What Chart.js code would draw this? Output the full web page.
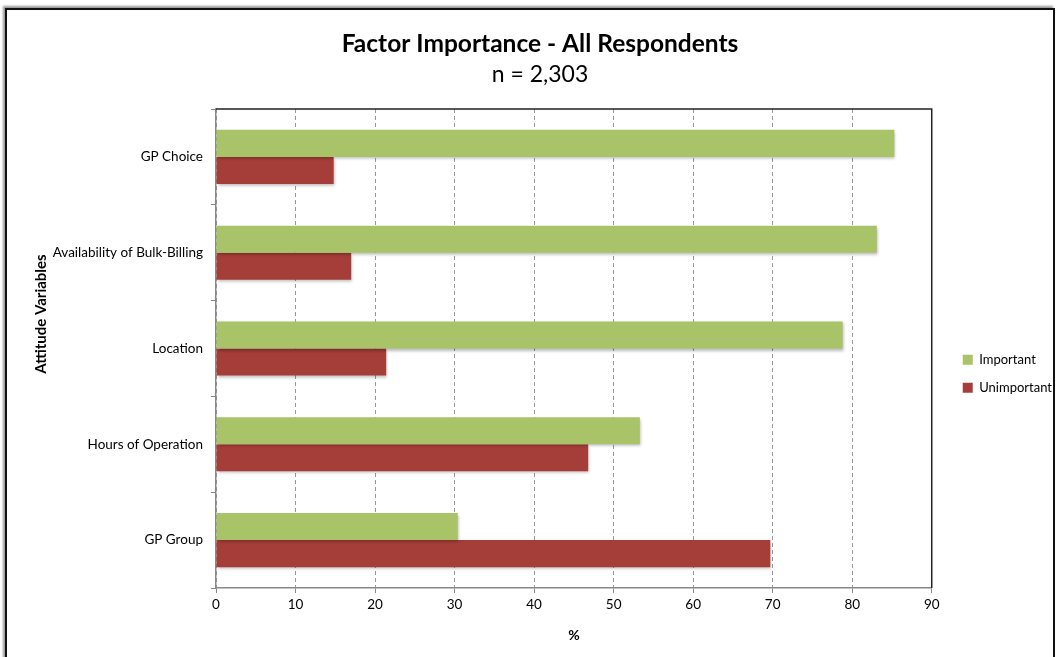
<!DOCTYPE html>
<html>
<head>
<meta charset="utf-8">
<script src="https://cdn.jsdelivr.net/npm/chart.js@4.4.1/dist/chart.umd.min.js"></script>
<style>
  html, body { margin: 0; padding: 0; background: #fff; }
  #wrap { position: relative; width: 1062px; height: 657px; overflow: hidden; }
  #frame {
    position: absolute; left: 5px; top: 8px; width: 1050px; height: 660px;
    border: 2px solid #111; box-shadow: -2px -2px 2px #999; box-sizing: border-box;
  }
  #chart { position: absolute; left: 0; top: 0; }
</style>
</head>
<body>
<div id="wrap">
  <div id="frame"></div>
  <canvas id="chart" width="1062" height="657"></canvas>
</div>
<script>
// ── Data ────────────────────────────────────────────────────────────────────
const categories   = ['GP Choice', 'Availability of Bulk-Billing', 'Location', 'Hours of Operation', 'GP Group'];
const importantPct   = [85.3, 83.1, 78.8, 53.3, 30.4];
const unimportantPct = [14.8, 17.0, 21.4, 46.8, 69.7];
const xTicks = [0, 10, 20, 30, 40, 50, 60, 70, 80, 90];

const FONT = 'Lato, "DejaVu Sans", sans-serif';
const GREEN = '#a9c468';
const RED   = '#a53e38';

// soft drop shadow under the bars, like the spreadsheet original
const barShadow = {
  id: 'barShadow',
  beforeDatasetsDraw(chart) {
    const c = chart.ctx;
    c.save();
    c.shadowColor = 'rgba(0,0,0,0.28)';
    c.shadowBlur = 3;
    c.shadowOffsetX = 1;
    c.shadowOffsetY = 2;
  },
  afterDatasetsDraw(chart) { chart.ctx.restore(); }
};

// legend sits a little further right than Chart.js puts it
const legendNudge = {
  id: 'legendNudge',
  afterLayout(chart) {
    const lg = chart.legend;
    if (!lg) return;
    lg.left += 16;
    lg.right += 16;
  }
};

// dark top/right edges of the plot area + rotated y title
const plotFrame = {
  id: 'plotFrame',
  afterDraw(chart) {
    const { ctx, chartArea: a } = chart;
    ctx.save();
    ctx.strokeStyle = '#222';
    ctx.lineWidth = 1.5;
    ctx.beginPath();
    ctx.moveTo(a.left, a.top);
    ctx.lineTo(a.right, a.top);
    ctx.lineTo(a.right, a.bottom);
    ctx.stroke();
    ctx.translate(41, 314);
    ctx.rotate(-Math.PI / 2);
    ctx.fillStyle = '#000';
    ctx.font = 'bold 15px ' + FONT;
    ctx.textAlign = 'center';
    ctx.textBaseline = 'middle';
    ctx.fillText('Attitude Variables', 0, 0);
    ctx.restore();
  }
};

new Chart(document.getElementById('chart').getContext('2d'), {
  type: 'bar',
  data: {
    labels: categories,
    datasets: [
      { label: 'Important',   data: importantPct,   backgroundColor: GREEN, borderWidth: 0 },
      { label: 'Unimportant', data: unimportantPct, backgroundColor: RED,   borderWidth: 0 }
    ]
  },
  options: {
    indexAxis: 'y',
    responsive: false,
    animation: false,
    layout: { padding: { left: 34, right: 16, top: 29, bottom: 9 } },
    datasets: { bar: { barPercentage: 1.0, categoryPercentage: 0.565 } },
    plugins: {
      title: {
        display: true, text: 'Factor Importance - All Respondents', color: '#000',
        font: { family: FONT, size: 24.5, weight: 'bold' }, padding: { top: 0, bottom: 2 }
      },
      subtitle: {
        display: true, text: 'n = 2,303', color: '#000',
        font: { family: FONT, size: 23, weight: 'normal' }, padding: { top: 0, bottom: 21 }
      },
      legend: {
        position: 'right',
        title: { display: true, text: ' ', padding: { top: 0, bottom: 55 }, font: { family: FONT, size: 13 } },
        labels: {
          color: '#000', boxWidth: 10, boxHeight: 10, padding: 15,
          font: { family: FONT, size: 13 }
        }
      },
      tooltip: { enabled: false }
    },
    scales: {
      x: {
        min: 0, max: 90,
        afterBuildTicks: s => { s.ticks = xTicks.map(v => ({ value: v })); },
        ticks: { color: '#000', font: { family: FONT, size: 13.5 }, padding: 4 },
        grid: { color: '#999', tickLength: 5, tickBorderDash: [], tickColor: '#888' },
        border: { color: '#888', width: 1.5, dash: [4, 3] },
        title: { display: true, text: '%', color: '#000', font: { family: FONT, size: 14, weight: 'bold' }, padding: { top: 10 } }
      },
      y: {
        afterFit: s => { s.width = 182; },
        ticks: { color: '#000', font: { family: FONT, size: 13.5 }, padding: 8 },
        grid: { offset: true, drawOnChartArea: false, tickLength: 5, color: '#888' },
        border: { color: '#888', width: 1.5 }
      }
    }
  },
  plugins: [barShadow, legendNudge, plotFrame]
});
</script>
</body>
</html>
